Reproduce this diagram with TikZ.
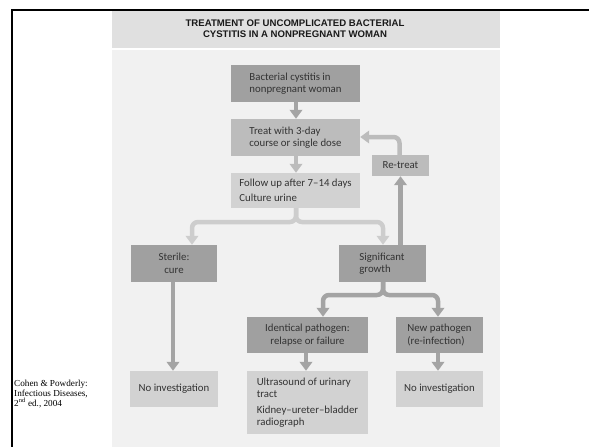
\documentclass[tikz,border=0pt]{standalone}
\usepackage{fontspec}
\usetikzlibrary{arrows.meta,calc}
\newfontfamily\boxfont[Ligatures=TeX]{Carlito}
\newfontfamily\ttlfont[Ligatures=TeX]{Liberation Sans}
\newfontfamily\capfont[Ligatures=TeX]{Liberation Serif}
\definecolor{dk}{HTML}{A0A0A0}
\definecolor{md}{HTML}{BCBCBC}
\definecolor{lt}{HTML}{D2D2D2}
\definecolor{panel}{HTML}{F1F1F1}
\definecolor{band}{HTML}{E0E0E0}
\definecolor{txt}{HTML}{333333}
\definecolor{ardk}{HTML}{A4A4A4}
\definecolor{armd}{HTML}{BCBCBC}
\definecolor{arlt}{HTML}{CDCDCD}
\tikzset{
  fbox/.style={rectangle, inner sep=0pt, align=left, text=txt,
    font=\boxfont\fontsize{10.8}{12.5}\selectfont},
  dkbox/.style={fbox, fill=dk},
  mdbox/.style={fbox, fill=md},
  ltbox/.style={fbox, fill=lt},
  arr/.style={line width=4.5pt, rounded corners=6pt,
    -{Triangle[width=12.5pt,length=9pt]}},
}
\begin{document}
\begin{tikzpicture}[x=1pt,y=-1pt]
\useasboundingbox (0,0) rectangle (589,447);
\fill[white] (0,0) rectangle (589,447);
% frame
\fill[band] (112,11) rectangle (500,48);
\fill[panel] (112,50) rectangle (500,447);
\draw[line width=2.2pt] (12,447) -- (12,10) -- (589,10);
% title
\node[align=center, text=black!90, font=\ttlfont\bfseries\fontsize{9.6}{11.3}\selectfont]
  (title) at (295,29) {TREATMENT OF UNCOMPLICATED BACTERIAL\\CYSTITIS IN A NONPREGNANT WOMAN};
% caption
\node[anchor=north west, inner sep=0pt, align=left,
  font=\capfont\fontsize{9.2}{10}\selectfont] (cap) at (14,379.5)
  {Cohen \& Powderly:\\Infectious Diseases,\\2\textsuperscript{nd} ed., 2004};
% boxes
\node[dkbox, minimum width=129pt, minimum height=37pt] (b1) at (295.5,83.5)
  {Bacterial cystitis in\\nonpregnant woman};
\node[mdbox, minimum width=129pt, minimum height=37pt] (b2) at (295.5,137.5)
  {Treat with 3-day\\course or single dose};
\node[ltbox, minimum width=129pt, minimum height=35pt] (b3) at (295.5,190.5)
  {Follow up after 7–14 days\\[2.5pt]Culture urine};
\node[mdbox, align=center, minimum width=57pt, minimum height=21pt] (rt) at (400.5,165.5)
  {Re-treat};
\node[dkbox, align=center, minimum width=86pt, minimum height=37pt] (st) at (174,263.5)
  {Sterile:\\cure};
\node[dkbox, minimum width=87pt, minimum height=37pt] (sg) at (382,263.5)
  {Significant\\growth};
\node[dkbox, align=center, minimum width=121pt, minimum height=36pt] (id) at (307.5,335)
  {Identical pathogen:\\relapse or failure};
\node[dkbox, minimum width=87pt, minimum height=36pt] (nw) at (439.5,335)
  {New pathogen\\(re-infection)};
\node[ltbox, minimum width=88pt, minimum height=36pt] (n1) at (174,389)
  {No investigation};
\node[ltbox, minimum width=121pt, minimum height=63pt] (us) at (307.5,402.5)
  {Ultrasound of urinary\\tract\\[3pt]Kidney–ureter–bladder\\radiograph};
\node[ltbox, minimum width=87pt, minimum height=36pt] (n2) at (439.5,389)
  {No investigation};
% junction points
\coordinate (j1) at (296,222);
\coordinate (j2) at (383,295);
% connectors
\draw[arr, ardk] ([xshift=0.5pt]b1.south) -- ([xshift=0.5pt]b2.north);
\draw[arr, armd] ([xshift=0.5pt]b2.south) -- ([xshift=0.5pt]b3.north);
\draw[arr, arlt] (b3.south -| j1) -- (j1) -| ([xshift=18pt]st.north);
\draw[arr, arlt] (b3.south -| j1) -- (j1) -| ([xshift=1pt]sg.north);
\draw[arr, ardk] (sg.north -| rt.south) -- (rt.south);
\draw[arr, armd] ([xshift=-1pt]rt.north) |- ([yshift=0.5pt]b2.east);
\draw[arr, ardk] ([xshift=-1pt]st.south) -- ([xshift=-1pt]n1.north);
\draw[arr, ardk] (sg.south -| j2) -- (j2) -| ([xshift=15.5pt]id.north);
\draw[arr, ardk] (sg.south -| j2) -- (j2) -| ([xshift=-1.5pt]nw.north);
\draw[arr, ardk] ([xshift=-1.5pt]id.south) -- ([xshift=-1.5pt]us.north);
\draw[arr, ardk] ([xshift=-1.5pt]nw.south) -- ([xshift=-1.5pt]n2.north);
\end{tikzpicture}
\end{document}
